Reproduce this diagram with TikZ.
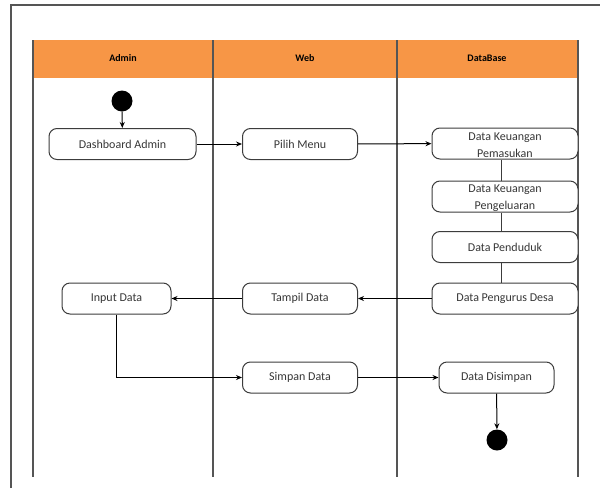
\documentclass[tikz,border=0pt]{standalone}
\usepackage{fontspec}
\setmainfont{Carlito}
\usetikzlibrary{arrows.meta}
\definecolor{hdrorange}{RGB}{247,150,70}
\definecolor{lanegray}{RGB}{85,85,85}
\definecolor{boxgray}{RGB}{60,60,60}
\definecolor{txtgray}{RGB}{55,55,55}
\tikzset{
  act/.style={draw=boxgray, line width=1pt, rounded corners=8pt, fill=white,
    minimum width=#1, minimum height=31pt, inner sep=0pt, text=txtgray,
    font=\fontsize{12}{14}\selectfont},
  act/.default=115pt,
  lbl/.style={align=center, inner sep=0pt, text=txtgray,
    font=\fontsize{12}{17.5}\selectfont},
  hdr/.style={font=\bfseries\fontsize{10}{12}\selectfont},
  dot/.style={circle, fill=black, minimum size=21pt, inner sep=0pt},
  flow/.style={draw=black, line width=1pt, -{Stealth[length=6pt,width=5pt]}},
  link/.style={draw=boxgray, line width=1pt},
  lane/.style={draw=lanegray, line width=1.4pt}
}
\begin{document}
\begin{tikzpicture}[x=1pt,y=-1pt]
\useasboundingbox (0,0) rectangle (603,488);
% outer frame
\draw[lanegray, line width=1.3pt] (11,488) -- (11,5) -- (600,5);
% header band and swimlane borders
\fill[hdrorange] (33,40) rectangle (578,78);
\foreach \x in {33,213,397,578} \draw[lane] (\x,40) -- (\x,477);
\node[hdr] (hadmin) at (123,58) {Admin};
\node[hdr] (hweb) at (305,58) {Web};
\node[hdr] (hdb) at (487,58) {DataBase};

% activities
\node[dot] (start) at (122,101) {};
\node[act=147pt] (dash) at (122.5,144) {Dashboard Admin};
\node[act] (pilih) at (300,144) {Pilih Menu};
\node[act=146pt] (dkm) at (505,143.5) {};
\node[lbl] (dkmt) at (505,145) {Data Keuangan\\Pemasukan};
\node[act=146pt] (dkk) at (505,196.5) {};
\node[lbl] (dkkt) at (505,198) {Data Keuangan\\Pengeluaran};
\node[act=146pt] (pend) at (505,247) {Data Penduduk};
\node[act=146pt] (peng) at (505,298.5) {Data Pengurus Desa};
\node[act=109pt] (input) at (116.5,298.5) {Input Data};
\node[act] (tampil) at (300,298.5) {Tampil Data};
\node[act] (simpan) at (300,377.5) {Simpan Data};
\node[act] (disimpan) at (496.5,377.5) {Data Disimpan};
\node[dot] (stop) at (497,440) {};

% flows
\draw[flow] (start) -- (dash);
\draw[flow] (dash) -- (pilih);
\draw[flow] (pilih) -- (dkm);
\draw[link] (dkm.south -| 501,0) -- (dkk.north -| 501,0);
\draw[link] (dkk.south -| 501,0) -- (pend.north -| 501,0);
\draw[link] (pend.south -| 501,0) -- (peng.north -| 501,0);
\draw[flow] (peng) -- (tampil);
\draw[flow] (tampil) -- (input);
\draw[flow] (input.south) |- (simpan.west);
\draw[flow] (simpan) -- (disimpan);
\draw[flow] (disimpan) -- (stop);
\end{tikzpicture}
\end{document}
